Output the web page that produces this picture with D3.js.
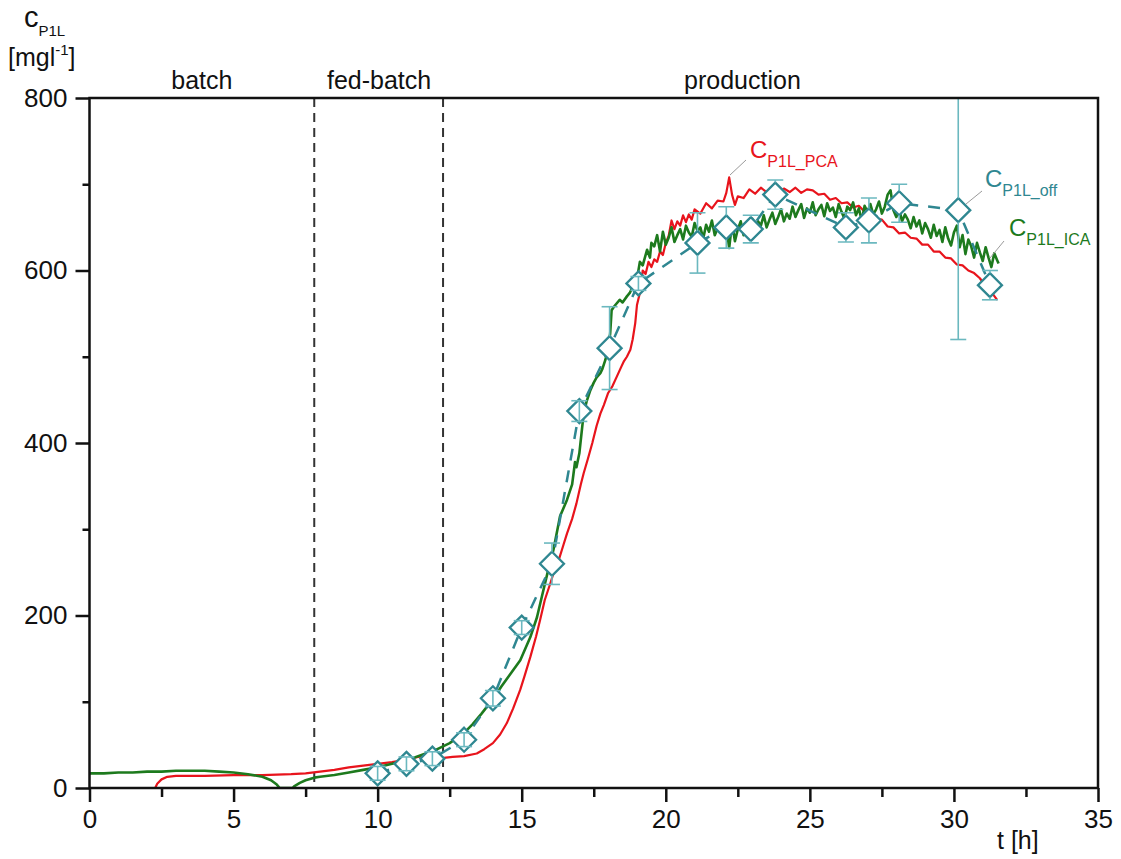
<!DOCTYPE html>
<html lang="en">
<head>
  <meta charset="UTF-8" />
  <title>c P1L over time</title>
  <style>
    body { margin: 0; background: #fff; }
    svg text { font-family: "Liberation Sans", Arial, sans-serif; fill: #111; }
    .axis path, .axis line { stroke: #111; stroke-width: 2.5; }
    .axis text { font-size: 26px; fill: #111; }
  </style>
</head>
<body>
  <div id="chart"></div>

  <script src="https://d3js.org/d3.v7.min.js"></script>
  <script>
    // phases
    const phaseNames = ['batch', 'fed-batch', 'production'];
    const phasePos = [3.9, 10.05, 22.66];
    const phaseBounds = [7.8, 12.27];

    // ICA signal (green)
    const icaT = [0, 0.5, 1, 1.5, 2, 2.5, 3, 3.5, 4, 4.5, 5, 5.5, 6, 6.3, 6.5, 6.6, 6.8, 7.05,
      7.1, 7.3, 7.5, 7.8, 8, 8.5, 9, 9.5, 10, 10.5, 11, 11.5, 12, 12.5, 13, 13.3, 13.6, 14, 14.3, 14.6, 14.95,
      15.3, 15.53, 15.7, 15.9, 16.1, 16.33, 16.57, 16.75, 16.85, 16.9, 17.0, 17.15, 17.25, 17.38, 17.5,
      17.6, 17.73, 17.8, 17.9, 18.0, 18.07, 18.12, 18.2, 18.3, 18.4, 18.5, 18.65, 18.75, 18.9, 19.0,
      19.1, 19.2, 19.35, 19.45, 19.5, 19.6, 19.7, 19.8, 19.9, 20.0, 20.1, 20.2, 20.3, 20.4, 20.5,
      20.6, 20.7, 20.8, 20.9, 21.0, 21.1, 21.2, 21.3, 21.4, 21.5, 21.6, 21.7, 21.8, 21.9, 22.0,
      22.1, 22.2, 22.3, 22.4, 22.5, 22.6, 22.7, 22.8, 22.9, 23.0, 23.1, 23.2, 23.3, 23.4, 23.5,
      23.6, 23.7, 23.8, 23.9, 24.0, 24.1, 24.2, 24.3, 24.4, 24.5, 24.6, 24.7, 24.8, 24.9, 25.0,
      25.1, 25.2, 25.3, 25.4, 25.5, 25.6, 25.7, 25.8, 25.9, 26.0, 26.1, 26.2, 26.3, 26.4, 26.5,
      26.6, 26.7, 26.8, 26.9, 27.0, 27.1, 27.2, 27.3, 27.4, 27.5, 27.6, 27.7, 27.8, 27.9, 28.0,
      28.1, 28.2, 28.3, 28.4, 28.5, 28.6, 28.7, 28.8, 28.9, 29.0, 29.1, 29.2, 29.3, 29.4, 29.5,
      29.6, 29.7, 29.8, 29.9, 30.0, 30.1, 30.2, 30.3, 30.4, 30.5, 30.6, 30.7, 30.8, 30.9, 31.0,
      31.1, 31.2, 31.3, 31.4, 31.5, 31.55];
    const icaV = [17, 17, 18, 18, 19, 19, 20, 20, 20, 19, 18, 16, 13, 9, 4, 0, 0, 0,
      2, 6, 9, 12, 13, 15, 18, 21, 24, 28, 32, 38, 44, 52, 64, 74, 86, 103, 118, 132, 148,
      175, 198, 222, 250, 276, 315, 334, 352, 378, 372, 388, 434, 448, 461, 470,
      476, 481, 486, 496, 510, 527, 554, 558, 562, 566, 563, 570, 574, 585, 590,
      610, 606, 624, 615, 632, 628, 641, 622, 645, 630, 638, 650, 633, 641, 648,
      636, 652, 644, 639, 655, 646, 650, 637, 653, 645, 658, 641, 649, 656, 644,
      652, 626, 655, 634, 648, 657, 641, 655, 649, 660, 646, 657, 652, 664, 650,
      659, 667, 654, 662, 671, 657, 666, 660, 674, 662, 670, 677, 661, 672, 667,
      679, 664, 671, 676, 663, 678, 669, 673, 662, 677, 668, 660, 674, 670, 679,
      664, 672, 658, 675, 668, 677, 665, 671, 680, 666, 674, 688, 693, 670, 662,
      671, 657, 665, 659, 649, 662, 651, 658, 643, 655, 648, 638, 653, 640, 647,
      633, 650, 637, 629, 644, 652, 627, 641, 619, 636, 628, 615, 632, 621, 611,
      627, 615, 604, 620, 612, 608];

    // PCA signal (red)
    const pcaT = [2.28, 2.35, 2.5, 2.7, 3, 4, 5, 6, 7, 7.5, 8, 8.5, 9, 9.5, 10, 10.5, 11, 11.4, 11.6, 12,
      12.3, 12.6, 13, 13.44, 13.7, 14.0, 14.25, 14.48, 14.7, 14.95, 15.1, 15.3, 15.5, 15.64, 15.8, 16.0,
      16.15, 16.3, 16.45, 16.57, 16.75, 16.9, 17.05, 17.15, 17.3, 17.45, 17.6, 17.73, 17.85, 18.0, 18.15,
      18.3, 18.45, 18.55, 18.65, 18.77, 18.85, 18.94, 19.0, 19.1, 19.2, 19.3, 19.4, 19.5, 19.6, 19.7,
      19.8, 19.9, 20.0, 20.1, 20.2, 20.3, 20.4, 20.5, 20.6, 20.7, 20.8, 20.9, 21.0, 21.2, 21.4, 21.6,
      21.8, 22.0, 22.1, 22.2, 22.3, 22.4, 22.5, 22.7, 22.9, 23.1, 23.3, 23.5, 23.7, 23.9, 24.1, 24.3,
      24.5, 24.7, 24.9, 25.1, 25.3, 25.5, 25.7, 25.9, 26.1, 26.3, 26.5, 26.7, 26.9, 27.1, 27.3, 27.5,
      27.7, 27.9, 28.1, 28.3, 28.5, 28.7, 28.9, 29.1, 29.3, 29.5, 29.7, 29.9, 30.1, 30.3, 30.5, 30.7,
      30.9, 31.1, 31.3, 31.5];
    const pcaV = [0, 5, 10, 13, 14, 14, 15, 15, 16, 17, 19, 21, 24, 26, 28, 30, 33, 36, 37, 36,
      35, 36, 37, 40, 45, 52, 62, 75, 92, 114, 130, 152, 176, 195, 218, 238,
      254, 266, 282, 295, 312, 330, 352, 365, 382, 400, 420, 434, 444, 458, 466,
      477, 488, 495, 500, 508, 520, 539, 560, 574, 600, 596, 610, 604, 613, 610,
      622, 618, 632, 640, 658, 648, 657, 652, 664, 656, 665, 659, 671, 666, 678, 672,
      681, 680, 690, 708, 688, 676, 686, 684, 694, 689, 696, 691, 698, 690, 695, 691,
      696, 690, 694, 693, 688, 689, 682, 684, 678, 679, 673, 675, 668, 667, 660, 659,
      651, 650, 643, 644, 638, 637, 630, 630, 622, 622, 615, 614, 607, 606, 600, 597,
      591, 582, 575, 566];

    // offline samples with error bars
    const offT = [10.0, 11.0, 11.9, 13.0, 14.0, 15.0, 16.05, 17.0, 18.05, 19.05, 21.1, 22.1, 22.95, 23.8, 26.25, 27.05, 28.1, 30.15, 31.25];
    const offV = [17, 28, 34, 56, 104, 186, 260, 437, 510, 585, 632, 650, 648, 688, 650, 658, 678, 670, 583];
    const offErr = [8, 8, 8, 8, 9, 8, 24, 12, 48, 8, 35, 24, 16, 17, 17, 26, 22, 150, 17];

    const xTicks = [0, 5, 10, 15, 20, 25, 30, 35];
    const xMinor = [2.5, 7.5, 12.5, 17.5, 22.5, 27.5, 32.5];
    const yTicks = [0, 200, 400, 600, 800];
    const yMinor = [100, 300, 500, 700];

    const width = 1121;
    const height = 859;
    const red = '#e8141c', green = '#1d7a1d', teal = '#2f8791', tealLight = '#6bb8bf';

    const x = d3.scaleLinear().domain([0, 35]).range([89.5, 1098]);
    const y = d3.scaleLinear().domain([0, 800]).range([788, 98]);

    const svg = d3.select('#chart').append('svg')
      .attr('width', width)
      .attr('height', height);

    svg.append('clipPath').attr('id', 'plotClip')
      .append('rect').attr('x', x(0)).attr('y', y(800)).attr('width', x(35) - x(0)).attr('height', y(0) - y(800));

    // phase separators
    svg.selectAll('.phaseLine')
      .data(phaseBounds)
      .enter().append('line')
      .attr('x1', d => x(d)).attr('x2', d => x(d))
      .attr('y1', y(800)).attr('y2', y(0))
      .attr('stroke', '#333').attr('stroke-width', 2)
      .attr('stroke-dasharray', '9,6');

    svg.selectAll('.phase')
      .data(phaseNames)
      .enter().append('text')
      .attr('x', (d, i) => x(phasePos[i]))
      .attr('y', 89)
      .attr('text-anchor', 'middle')
      .style('font-size', '25px')
      .text(d => d);

    const plot = svg.append('g').attr('clip-path', 'url(#plotClip)');
    const line = d3.line().x(d => x(d[0])).y(d => y(d[1]));

    plot.append('path')
      .datum(d3.zip(pcaT, pcaV))
      .attr('d', line)
      .attr('fill', 'none').attr('stroke', red).attr('stroke-width', 2.2)
      .attr('stroke-linejoin', 'round');

    plot.append('path')
      .datum(d3.zip(icaT, icaV))
      .attr('d', line)
      .attr('fill', 'none').attr('stroke', green).attr('stroke-width', 2.6)
      .attr('stroke-linejoin', 'round');

    const off = d3.zip(offT, offV, offErr);

    plot.append('path')
      .datum(off)
      .attr('d', line)
      .attr('fill', 'none').attr('stroke', teal).attr('stroke-width', 2.5)
      .attr('stroke-dasharray', '12,10');

    const r = 12;
    plot.selectAll('.diamond').data(off).enter().append('path')
      .attr('d', d => {
        const cx = x(d[0]), cy = y(d[1]);
        return `M${cx},${cy - r}L${cx + r},${cy}L${cx},${cy + r}L${cx - r},${cy}Z`;
      })
      .attr('fill', '#fff')
      .attr('stroke', teal).attr('stroke-width', 2.3);

    // error bars (stem skips the inside of a diamond when the bar is longer than it)
    const eb = plot.selectAll('.err').data(off).enter().append('g')
      .attr('stroke', tealLight).attr('stroke-width', 1.6);
    eb.append('path')
      .attr('d', d => {
        const cx = x(d[0]), cy = y(d[1]);
        const top = y(d[1] + d[2]), bot = y(d[1] - d[2]);
        if (cy - top > r) return `M${cx},${top}V${cy - r}M${cx},${cy + r}V${bot}`;
        return `M${cx},${top}V${bot}`;
      });
    eb.append('line')
      .attr('x1', d => x(d[0]) - 8).attr('x2', d => x(d[0]) + 8)
      .attr('y1', d => y(d[1] - d[2])).attr('y2', d => y(d[1] - d[2]));
    eb.append('line')
      .attr('x1', d => x(d[0]) - 8).attr('x2', d => x(d[0]) + 8)
      .attr('y1', d => y(d[1] + d[2])).attr('y2', d => y(d[1] + d[2]));

    // axes
    svg.append('g').attr('class', 'axis')
      .attr('transform', `translate(0,${y(0)})`)
      .call(d3.axisBottom(x).tickValues(xTicks).tickSize(14).tickPadding(8).tickFormat(d3.format('d')))
      .call(g => g.select('.domain').remove());
    svg.append('g').attr('class', 'axis')
      .attr('transform', `translate(0,${y(0)})`)
      .call(d3.axisBottom(x).tickValues(xMinor).tickSize(9).tickFormat(''))
      .call(g => g.select('.domain').remove());
    svg.append('g').attr('class', 'axis')
      .attr('transform', `translate(${x(0)},0)`)
      .call(d3.axisLeft(y).tickValues(yTicks).tickSize(14).tickPadding(8).tickFormat(d3.format('d')))
      .call(g => g.select('.domain').remove());
    svg.append('g').attr('class', 'axis')
      .attr('transform', `translate(${x(0)},0)`)
      .call(d3.axisLeft(y).tickValues(yMinor).tickSize(7).tickFormat(''))
      .call(g => g.select('.domain').remove());

    svg.append('rect')
      .attr('x', x(0)).attr('y', y(800))
      .attr('width', x(35) - x(0)).attr('height', y(0) - y(800))
      .attr('fill', 'none').attr('stroke', '#111').attr('stroke-width', 2.5);

    // axis titles
    const yt = svg.append('text').attr('x', 24).attr('y', 27).style('font-size', '29px');
    yt.append('tspan').text('c');
    yt.append('tspan').attr('dy', 9).style('font-size', '15px').text('P1L');
    const yu = svg.append('text').attr('x', 8).attr('y', 66).style('font-size', '25px');
    yu.append('tspan').text('[mgl');
    yu.append('tspan').attr('dy', -11).style('font-size', '15px').text('-1');
    yu.append('tspan').attr('dy', 11).text(']');

    svg.append('text').attr('x', 997).attr('y', 849).style('font-size', '25px').text('t [h]');

    // series labels
    const labels = [
      { sub: 'P1L_PCA', color: red, x: 750, y: 158, lx1: 746, ly1: 160, lx2: 730, ly2: 175 },
      { sub: 'P1L_off', color: teal, x: 985, y: 187, lx1: 982, ly1: 191, lx2: 966, ly2: 204 },
      { sub: 'P1L_ICA', color: green, x: 1009, y: 236, lx1: 1004, ly1: 241, lx2: 990, ly2: 258 }
    ];
    labels.forEach(l => {
      svg.append('line')
        .attr('x1', l.lx1).attr('y1', l.ly1).attr('x2', l.lx2).attr('y2', l.ly2)
        .attr('stroke', '#9a9a9a').attr('stroke-width', 1);
      const t = svg.append('text').attr('x', l.x).attr('y', l.y)
        .style('font-size', '24px').style('fill', l.color);
      t.append('tspan').text('C');
      t.append('tspan').attr('dy', 9).style('font-size', '16px').text(l.sub);
    });
  </script>
</body>
</html>
